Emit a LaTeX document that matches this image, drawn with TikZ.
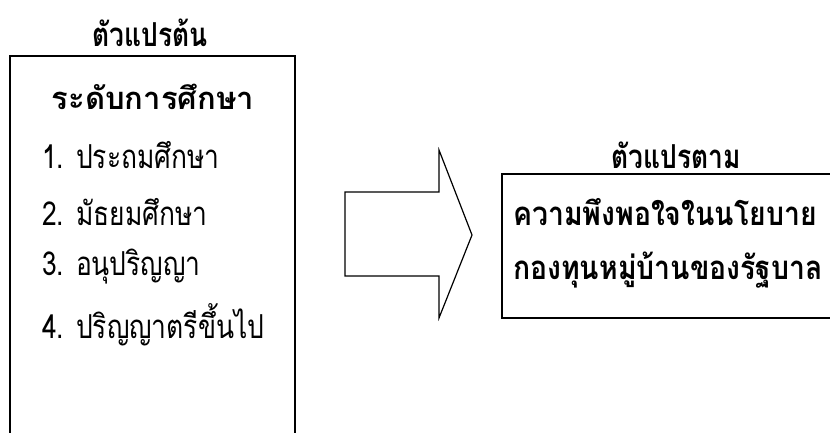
\documentclass[tikz,border=0pt]{standalone}
\usepackage{fontspec}
\newfontfamily\thaifont[Script=Thai,FakeStretch=0.8]{Loma}
\newfontfamily\thaimid[Script=Thai,FakeStretch=0.86]{Loma}
\newfontfamily\thaiwide[Script=Thai]{Loma}
\tikzset{
  box/.style={draw=black, line width=1.2pt, fill=white},
  title/.style={font=\thaifont\bfseries\fontsize{33}{38}\selectfont, inner sep=0pt},
  widetitle/.style={font=\thaiwide\bfseries\fontsize{31}{36}\selectfont, inner sep=0pt},
  item/.style={font=\thaifont\fontsize{33}{38}\selectfont, inner sep=0pt, anchor=west},
  bolditem/.style={font=\thaimid\bfseries\fontsize{33}{38}\selectfont, inner sep=0pt, anchor=west}
}
\begin{document}
\begin{tikzpicture}[x=1pt,y=1pt]
\useasboundingbox (0,0) rectangle (830,432);
\clip (0,0) rectangle (830,432);
% left box
\draw[box] (10,376) rectangle (295,-20);
\node[title] (ivtitle) at (150,399) {ตัวแปรต้น};
\node[widetitle] (edu) at (153,335) {ระดับการศึกษา};
\node[item] (i1) at (42,277) {1. ประถมศึกษา};
\node[item] (i2) at (42,220) {2. มัธยมศึกษา};
\node[item] (i3) at (42,165) {3. อนุปริญญา};
\node[item] (i4) at (42,107) {4. ปริญญาตรีขึ้นไป};
% arrow
\draw[line width=1.2pt, line join=miter, fill=white]
  (345,240) -- (439,240) -- (439,282) -- (472,197) -- (439,114) -- (439,156) -- (345,156) -- cycle;
% right box
\draw[box] (502,258) rectangle (840,114);
\node[title] (dvtitle) at (676,277) {ตัวแปรตาม};
\node[bolditem] (d1) at (513,220) {ความพึงพอใจในนโยบาย};
\node[bolditem] (d2) at (513,162) {กองทุนหมู่บ้านของรัฐบาล};
\end{tikzpicture}
\end{document}
